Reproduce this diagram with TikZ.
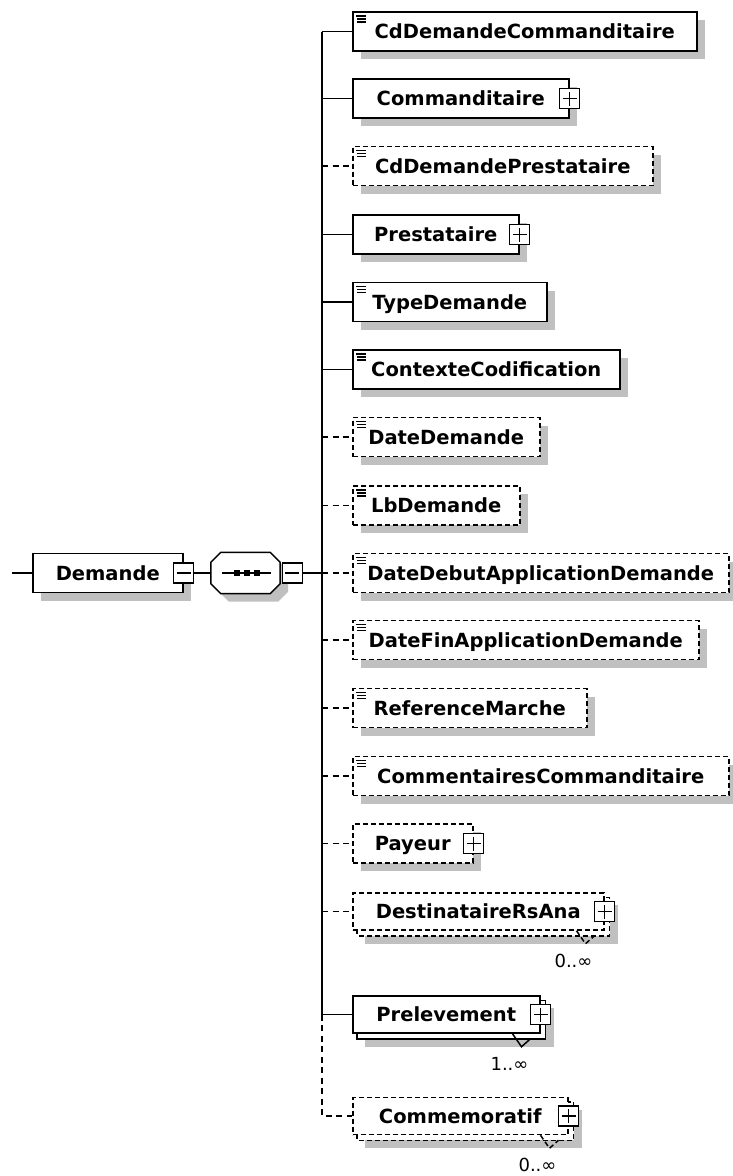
\documentclass[tikz,border=0pt]{standalone}
\usepackage{fontspec}
\setmainfont{DejaVu Sans}
\usepackage{xcolor}
\usepackage{tikz}
\usetikzlibrary{calc,shadows,backgrounds}
\definecolor{shadowgray}{RGB}{192,192,192}

\begin{document}
\begin{tikzpicture}[x=1pt,y=1pt]
                    \tikzstyle{every node}+=[inner sep=0pt]
                    \tikzstyle{ln}=[black, line width=1.5pt]
                    \tikzstyle{opt}=[dash pattern=on 5pt off 3pt]
                    \tikzstyle{optln}=[dash pattern=on 6pt off 4.5pt]
                    \tikzstyle{shad}=[drop shadow={shadow xshift=8pt, shadow yshift=-8pt, fill=shadowgray, opacity=1}]
                    \tikzstyle{elem}=[ln, draw, fill=white, anchor=west, minimum height=39pt, text height=14pt, text depth=0pt, font=\bfseries\fontsize{19.5}{22}\selectfont]
                    \tikzstyle{multi}=[minimum height=37pt]
                    \tikzstyle{doc}=[path picture={
                        \draw[solid, line width=1.2pt] ([shift={(3pt,-4pt)}]path picture bounding box.north west) -- ++(10pt,0pt);
                        \draw[solid, line width=1.2pt] ([shift={(4pt,-7pt)}]path picture bounding box.north west) -- ++(9pt,0pt);
                        \draw[solid, line width=1.2pt] ([shift={(4pt,-10pt)}]path picture bounding box.north west) -- ++(9pt,0pt);}]
                    \tikzstyle{sw}=[ln, solid, draw, fill=white, minimum size=20pt]
                    \tikzstyle{plus}=[sw, path picture={
                        \draw[ln] ([xshift=3pt]path picture bounding box.west) -- ([xshift=-3pt]path picture bounding box.east);
                        \draw[ln] ([yshift=-3pt]path picture bounding box.north) -- ([yshift=3pt]path picture bounding box.south);}]
                    \tikzstyle{minus}=[sw, path picture={
                        \draw[ln] ([xshift=3pt]path picture bounding box.west) -- ([xshift=-3pt]path picture bounding box.east);}]
                    \tikzstyle{mult}=[font=\fontsize{18}{21}\selectfont]
                    \useasboundingbox (0,0) rectangle (732,-1176);
                    % root element and sequence
                    \coordinate (in) at (12,-573);
                    \node[elem, shad, minimum width=150pt] (dem) at (32,-573) {Demande\hspace{6pt}};
                    \node[minus] (dem-mb) at (dem.east) {};
                    \node[minimum width=69pt, minimum height=41pt] (seq) at (245.5,-573) {};
                    \draw[ln, fill=white, shad] ([xshift=10]seq.north west) -- ([xshift=-10]seq.north east) -- ([yshift=-10]seq.north east) -- ([yshift=10]seq.south east)
                        -- ([xshift=-10]seq.south east) -- ([xshift=10]seq.south west) -- ([yshift=10]seq.south west) -- ([yshift=-10]seq.north west) -- cycle;
                    \node[minus, anchor=west] (seq-mb) at ([xshift=1.5pt]seq.east) {};
                    \draw[ln] ([xshift=11pt]seq.west) -- ([xshift=-9pt]seq.east);
                    \fill ([shift={(-12,-3)}]seq.center) rectangle ++(6,6);
                    \fill ([shift={(-2,-3)}]seq.center) rectangle ++(6,6);
                    \fill ([shift={(8,-3)}]seq.center) rectangle ++(6,6);
                    \coordinate (bus) at (322,-573);
                    \draw[ln] (in) -- (dem);
                    \draw[ln] (dem-mb) -- (seq);
                    \draw[ln] (seq-mb) -- (bus);
                    % children
                    \node[elem, shad, doc, minimum width=344pt] (cdcom) at (352,-31.5) {CdDemandeCommanditaire};
                    \node[elem, shad, minimum width=216pt] (cmd) at (352,-98.5) {Commanditaire\hspace{11pt}};
                    \node[plus] (cmd-pb) at (cmd.east) {};
                    \node[elem, shad, doc, opt, minimum width=300pt] (cdpre) at (352,-166) {CdDemandePrestataire};
                    \node[elem, shad, minimum width=166pt] (pre) at (352,-234.5) {Prestataire\hspace{11pt}};
                    \node[plus] (pre-pb) at (pre.east) {};
                    \node[elem, shad, doc, minimum width=194pt] (typ) at (352,-302) {TypeDemande};
                    \node[elem, shad, doc, minimum width=267pt] (ctx) at (352,-369.5) {ContexteCodification};
                    \node[elem, shad, doc, opt, minimum width=187pt] (dat) at (352,-437) {DateDemande};
                    \node[elem, shad, doc, opt, minimum width=167pt] (lb) at (352,-505.5) {LbDemande};
                    \node[elem, shad, doc, opt, minimum width=376pt] (ddeb) at (352,-573) {DateDebutApplicationDemande};
                    \node[elem, shad, doc, opt, minimum width=346pt] (dfin) at (352,-640) {DateFinApplicationDemande};
                    \node[elem, shad, doc, opt, minimum width=234pt] (ref) at (352,-708) {ReferenceMarche};
                    \node[elem, shad, doc, opt, minimum width=376pt] (comc) at (352,-776) {CommentairesCommanditaire};
                    \node[elem, shad, opt, minimum width=120pt] (pay) at (352,-843.5) {Payeur\hspace{11pt}};
                    \node[plus] (pay-pb) at (pay.east) {};
                    % repeated children
                    \node[elem, opt, multi, minimum width=251pt] (dest) at (352,-911.5) {DestinataireRsAna\hspace{11pt}};
                    \node[elem, multi, minimum width=187pt] (prel) at (352,-1014.5) {Prelevement\hspace{11pt}};
                    \node[elem, opt, multi, minimum width=215pt] (comm) at (352,-1116) {Commemoratif\hspace{11pt}};
                    \begin{scope}[on background layer]
                        \fill[shadowgray] ([shift={(13,-13)}]dest.north west) rectangle ([shift={(13,-13)}]dest.south east);
                        \draw[ln, opt, fill=white] ([shift={(5,-5)}]dest.north west) rectangle ([shift={(5,-5)}]dest.south east);
                        \fill[shadowgray] ([shift={(13,-13)}]prel.north west) rectangle ([shift={(13,-13)}]prel.south east);
                        \draw[ln, fill=white] ([shift={(5,-5)}]prel.north west) rectangle ([shift={(5,-5)}]prel.south east);
                        \fill[shadowgray] ([shift={(13,-13)}]comm.north west) rectangle ([shift={(13,-13)}]comm.south east);
                        \draw[ln, opt, fill=white] ([shift={(5,-5)}]comm.north west) rectangle ([shift={(5,-5)}]comm.south east);
                    \end{scope}
                    \draw[ln, opt] ([shift={(-28,0)}]dest.south east) -- ([shift={(-19,-13)}]dest.south east) -- ([shift={(-10,-5)}]dest.south east);
                    \draw[ln] ([shift={(-28,0)}]prel.south east) -- ([shift={(-19,-13)}]prel.south east) -- ([shift={(-10,-5)}]prel.south east);
                    \draw[ln, opt] ([shift={(-28,0)}]comm.south east) -- ([shift={(-19,-13)}]comm.south east) -- ([shift={(-10,-5)}]comm.south east);
                    \node[plus] (dest-pb) at (dest.east) {};
                    \node[plus] (prel-pb) at (prel.east) {};
                    \node[plus] (comm-pb) at (comm.east) {};
                    \node[mult] (dest-m) at ([shift={(-31,-30)}]dest.south east) {0..∞};
                    \node[mult] (prel-m) at ([shift={(-31,-30)}]prel.south east) {1..∞};
                    \node[mult] (comm-m) at ([shift={(-31,-30)}]comm.south east) {0..∞};
                    % connectors from the sequence bus
                    \draw[ln] (bus |- cdcom.west) -- (bus |- prel.west);
                    \draw[ln] (bus |- cdcom.west) -- (cdcom.west);
                    \draw[ln] (bus |- cmd.west) -- (cmd.west);
                    \draw[ln, optln] (bus |- cdpre.west) -- (cdpre.west);
                    \draw[ln] (bus |- pre.west) -- (pre.west);
                    \draw[ln] (bus |- typ.west) -- (typ.west);
                    \draw[ln] (bus |- ctx.west) -- (ctx.west);
                    \draw[ln, optln] (bus |- dat.west) -- (dat.west);
                    \draw[ln, optln] (bus |- lb.west) -- (lb.west);
                    \draw[ln, optln] (bus |- ddeb.west) -- (ddeb.west);
                    \draw[ln, optln] (bus |- dfin.west) -- (dfin.west);
                    \draw[ln, optln] (bus |- ref.west) -- (ref.west);
                    \draw[ln, optln] (bus |- comc.west) -- (comc.west);
                    \draw[ln, optln] (bus |- pay.west) -- (pay.west);
                    \draw[ln, optln] (bus |- dest.west) -- (dest.west);
                    \draw[ln] (bus |- prel.west) -- (prel.west);
                    \draw[ln, optln] (bus |- prel.west) -- (bus |- comm.west) -- (comm.west);
                \end{tikzpicture}
\end{document}
